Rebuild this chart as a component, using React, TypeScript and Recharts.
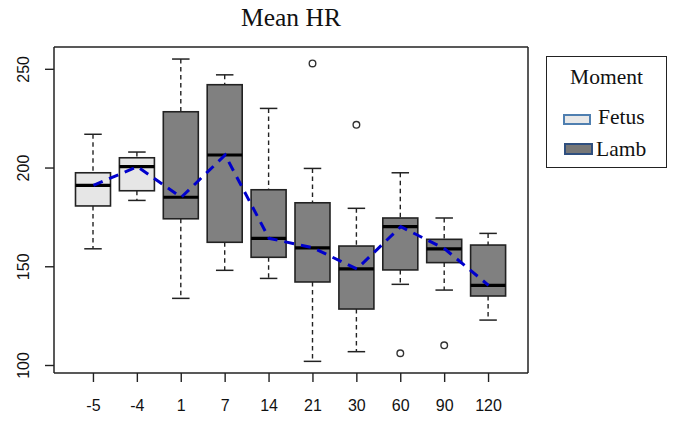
import React from 'react';
import { ComposedChart, Bar, Line, XAxis, YAxis, Legend } from 'recharts';

const categories = ['-5', '-4', '1', '7', '14', '21', '30', '60', '90', '120'];
const moments = ['Fetus', 'Fetus', 'Lamb', 'Lamb', 'Lamb', 'Lamb', 'Lamb', 'Lamb', 'Lamb', 'Lamb'];
const lowerWhisker = [159.1, 183.6, 134.0, 148.2, 144.1, 102.1, 107.0, 141.1, 138.2, 123.0];
const q1 = [180.8, 188.5, 174.3, 162.4, 154.8, 142.3, 128.6, 148.4, 152.1, 135.2];
const medians = [191.2, 200.7, 185.2, 206.6, 164.4, 159.6, 148.9, 170.3, 159.1, 140.6];
const q3 = [197.6, 205.2, 228.5, 242.2, 189.0, 182.4, 160.5, 174.7, 163.9, 161.0];
const upperWhisker = [217.1, 208.1, 255.2, 247.2, 230.2, 199.8, 179.6, 197.6, 174.7, 166.9];
const outliers: number[][] = [[], [], [], [], [], [253.0], [221.9], [106.2], [110.2], []];
const meanHR = [191.2, 200.7, 185.2, 206.6, 164.4, 159.6, 148.9, 170.3, 159.1, 140.6];
const yTicks = [100, 150, 200, 250];

const fillFor: Record<string, string> = { Fetus: '#e6e6e6', Lamb: '#808080' };

const data = categories.map((c, i) => ({
  label: c,
  moment: moments[i],
  lo: lowerWhisker[i],
  q1: q1[i],
  med: medians[i],
  q3: q3[i],
  hi: upperWhisker[i],
  out: outliers[i],
  mean: meanHR[i],
}));

const BoxShape = (props: any) => {
  const { x, y, width, height, payload } = props;
  if (payload == null || x == null) return null;
  const top = Math.min(y, y + height);
  const bot = Math.max(y, y + height);
  const k = (bot - top) / (payload.q3 - payload.q1);
  const py = (v: number) => top + (payload.q3 - v) * k;
  const cx = x + width / 2;
  const cap = width / 4;
  const ink = '#222';
  return (
    <g>
      <line x1={cx} x2={cx} y1={py(payload.hi)} y2={top} stroke={ink} strokeWidth={1.4} strokeDasharray="4.5 3.5" />
      <line x1={cx} x2={cx} y1={bot} y2={py(payload.lo)} stroke={ink} strokeWidth={1.4} strokeDasharray="4.5 3.5" />
      <line x1={cx - cap} x2={cx + cap} y1={py(payload.hi)} y2={py(payload.hi)} stroke={ink} strokeWidth={1.5} />
      <line x1={cx - cap} x2={cx + cap} y1={py(payload.lo)} y2={py(payload.lo)} stroke={ink} strokeWidth={1.5} />
      <rect x={x} y={top} width={width} height={bot - top} fill={fillFor[payload.moment]} stroke={ink} strokeWidth={1.6} />
      <line x1={x} x2={x + width} y1={py(payload.med)} y2={py(payload.med)} stroke="#000" strokeWidth={3.2} />
      {payload.out.map((o: number, j: number) => (
        <circle key={j} cx={cx} cy={py(o)} r={3.3} fill="none" stroke="#333" strokeWidth={1.4} />
      ))}
    </g>
  );
};

const YTick = (props: any) => {
  const { x, y, payload } = props;
  return (
    <text x={x} y={y} transform={`rotate(-90, ${x}, ${y})`} textAnchor="middle" fontFamily="Liberation Sans, Arial, sans-serif" fontSize={16} fill="#111">
      {payload.value}
    </text>
  );
};

const LegendBox = () => (
  <div style={{ position: 'relative', width: 121, height: 112, border: '1.5px solid #222', boxSizing: 'border-box', background: '#fff', fontFamily: 'Liberation Serif, Times New Roman, serif', color: '#111' }}>
    <div style={{ position: 'absolute', left: 0, width: '100%', top: 8, textAlign: 'center', fontSize: 21.5, lineHeight: '24px' }}>Moment</div>
    <div style={{ position: 'absolute', left: 16, top: 57, width: 28, height: 11, background: '#e8e8e8', border: '2px solid #4f7fb0', boxSizing: 'border-box' }} />
    <div style={{ position: 'absolute', left: 51, top: 48, fontSize: 21.5, lineHeight: '24px' }}>Fetus</div>
    <div style={{ position: 'absolute', left: 17, top: 86, width: 29, height: 12, background: '#777', border: '2px solid #2f4f7f', boxSizing: 'border-box' }} />
    <div style={{ position: 'absolute', left: 49, top: 80, fontSize: 21.5, lineHeight: '24px' }}>Lamb</div>
  </div>
);

export default function App() {
  return (
    <div style={{ position: 'relative', width: 660, height: 413 }}>
      <ComposedChart width={660} height={413} data={data} margin={{ top: 38, right: 139, bottom: 0, left: 0 }}>
        <XAxis
          dataKey="label"
          type="category"
          padding={{ left: 17.5, right: 17.5 }}
          height={48}
          tickSize={9}
          tickMargin={18}
          axisLine={{ stroke: '#222', strokeWidth: 1.5 }}
          tickLine={{ stroke: '#222', strokeWidth: 1.4 }}
          tick={{ fontFamily: 'Liberation Sans, Arial, sans-serif', fontSize: 16, fill: '#111' }}
          interval={0}
        />
        <XAxis xAxisId="top" dataKey="label" orientation="top" height={1} tick={false} tickLine={false} axisLine={{ stroke: '#222', strokeWidth: 1.5 }} />
        <YAxis
          type="number"
          domain={[96.2, 261.3]}
          ticks={yTicks}
          allowDataOverflow
          width={46}
          tickSize={9}
          tickMargin={16}
          axisLine={{ stroke: '#222', strokeWidth: 1.5 }}
          tickLine={{ stroke: '#222', strokeWidth: 1.4 }}
          tick={<YTick />}
        />
        <YAxis yAxisId="right" orientation="right" width={1} domain={[96.2, 261.3]} tick={false} tickLine={false} axisLine={{ stroke: '#222', strokeWidth: 1.5 }} />
        <Legend
          layout="vertical"
          align="center"
          verticalAlign="middle"
          content={<LegendBox />}
          wrapperStyle={{ position: 'absolute', left: 538, top: 48, width: 121, height: 112 }}
        />
        <Bar dataKey={(d: any) => [d.q1, d.q3]} barSize={35} shape={<BoxShape />} isAnimationActive={false} />
        <Line dataKey="mean" stroke="#0000cc" strokeWidth={3} strokeDasharray="10 7" dot={false} activeDot={false} isAnimationActive={false} />
      </ComposedChart>
      <svg width={660} height={36} style={{ position: 'absolute', left: 0, top: 0, overflow: 'visible' }}>
        <text x={283} y={17.5} textAnchor="middle" fontFamily="Liberation Serif, Times New Roman, serif" fontSize={25.5} fill="#111">
          Mean HR
        </text>
      </svg>
    </div>
  );
}
